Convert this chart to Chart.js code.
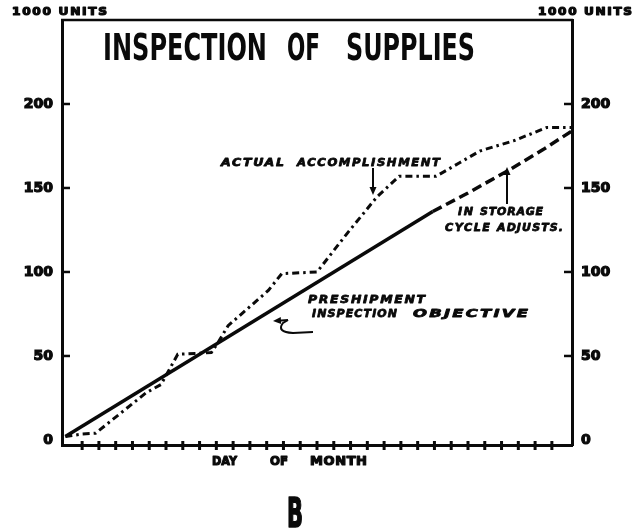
<!DOCTYPE html>
<html>
<head>
<meta charset="utf-8">
<script src="https://cdn.jsdelivr.net/npm/chart.js@4.4.1/dist/chart.umd.min.js"></script>
<style>
  html, body { margin: 0; padding: 0; background: #fff; }
  canvas { display: block; }
</style>
</head>
<body>
<canvas id="chart" width="638" height="531"></canvas>
<script>
// day of month vs. thousands of units
const actualDays = [0, 1, 1.8, 4.8, 5.7, 6.7, 8.7, 9.1, 9.7, 12.1, 12.9, 15, 16.8, 18.6, 19.9, 22.1, 23.5, 24.7, 26.7, 28.7, 30.2];
const actualUnits = [2, 3.5, 4, 28, 33, 51, 52, 58, 68, 89, 99, 100, 123, 145, 157, 157, 165, 172, 178, 186, 186];

const objectiveDays = [0, 21.9];
const objectiveUnits = [2, 136];

const storageDays = [21.9, 24, 26.5, 28.5, 30.2];
const storageUnits = [136, 147, 161, 173, 184];

const unitTicks = [0, 50, 100, 150, 200];
const dayTicks = [1, 2, 3, 4, 5, 6, 7, 8, 9, 10, 11, 12, 13, 14, 15, 16, 17, 18, 19, 20, 21, 22, 23, 24, 25, 26, 27, 28, 29];

const toPoints = (xs, ys) => xs.map((x, i) => ({ x, y: ys[i] }));

const INK = '#0a0a0a';
const FONT = '"DejaVu Sans", sans-serif';

// draws text so it spans x0..x1: a little extra letter spacing first,
// then the glyphs are stretched or squeezed for the rest.
// `heavy` thickens the strokes.
function fitText(ctx, text, x0, x1, baseline, font, heavy = 0, maxGap = 1.5) {
  ctx.save();
  ctx.font = font;
  ctx.textAlign = 'left';
  ctx.textBaseline = 'alphabetic';
  ctx.fillStyle = INK;
  ctx.strokeStyle = INK;
  ctx.lineWidth = heavy;
  ctx.lineJoin = 'round';
  const target = x1 - x0;
  let w = ctx.measureText(text).width;
  if (w < target && text.length > 1) {
    const gap = Math.min((target - w) / (text.length - 1), maxGap);
    ctx.letterSpacing = `${gap}px`;
    w += gap * (text.length - 1);
  }
  ctx.translate(x0, baseline);
  ctx.scale(target / w, 1);
  ctx.fillText(text, 0, 0);
  if (heavy) ctx.strokeText(text, 0, 0);
  ctx.restore();
}

function arrow(ctx, x1, y1, x2, y2) {
  const a = Math.atan2(y2 - y1, x2 - x1);
  ctx.save();
  ctx.strokeStyle = INK;
  ctx.fillStyle = INK;
  ctx.lineWidth = 2;
  ctx.beginPath();
  ctx.moveTo(x1, y1);
  ctx.lineTo(x2 - 5 * Math.cos(a), y2 - 5 * Math.sin(a));
  ctx.stroke();
  ctx.beginPath();
  ctx.moveTo(x2, y2);
  ctx.lineTo(x2 - 8 * Math.cos(a) + 3.5 * Math.sin(a), y2 - 8 * Math.sin(a) - 3.5 * Math.cos(a));
  ctx.lineTo(x2 - 8 * Math.cos(a) - 3.5 * Math.sin(a), y2 - 8 * Math.sin(a) + 3.5 * Math.cos(a));
  ctx.closePath();
  ctx.fill();
  ctx.restore();
}

const paper = {
  id: 'paper',
  beforeDraw: (ch) => {
    const { ctx } = ch;
    ctx.save();
    ctx.fillStyle = '#fff';
    ctx.fillRect(0, 0, ch.width, ch.height);
    ctx.restore();
  },
  afterDraw: (ch) => {
    const { ctx, chartArea: area } = ch;
    const { x, y, y2 } = ch.scales;
    ctx.save();
    ctx.strokeStyle = INK;

    // top edge of the frame
    ctx.lineWidth = 2.5;
    ctx.beginPath();
    ctx.moveTo(area.left - 1, area.top);
    ctx.lineTo(area.right + 1, area.top);
    ctx.stroke();

    // inward tick marks on both value axes
    ctx.lineWidth = 2.5;
    unitTicks.filter((v) => v > 0).forEach((v) => {
      const py = y.getPixelForValue(v);
      ctx.beginPath();
      ctx.moveTo(area.left, py);
      ctx.lineTo(area.left + 8, py);
      ctx.stroke();
      const py2 = y2.getPixelForValue(v);
      ctx.beginPath();
      ctx.moveTo(area.right, py2);
      ctx.lineTo(area.right - 8, py2);
      ctx.stroke();
    });

    // day marks across the bottom axis
    ctx.lineWidth = 3;
    dayTicks.forEach((d) => {
      const px = x.getPixelForValue(d);
      ctx.beginPath();
      ctx.moveTo(px, area.bottom - 4);
      ctx.lineTo(px, area.bottom + 5);
      ctx.stroke();
    });
    ctx.restore();

    // lettering
    fitText(ctx, '1000 UNITS', 12, 107, 15, `bold 11px ${FONT}`, 1.2);
    fitText(ctx, '1000 UNITS', 538, 632, 15, `bold 11px ${FONT}`, 1.2);

    const title = 'bold 38px "DejaVu Sans Condensed", sans-serif';
    fitText(ctx, 'INSPECTION', 103, 267, 60, title, 0, 3);
    fitText(ctx, 'OF', 287, 320, 60, title, 0, 3);
    fitText(ctx, 'SUPPLIES', 346, 475, 60, title, 0, 3);

    fitText(ctx, 'DAY', 212, 237, 465, `bold 13px ${FONT}`, 1.2);
    fitText(ctx, 'OF', 270, 288, 465, `bold 13px ${FONT}`, 1.2);
    fitText(ctx, 'MONTH', 310, 367, 465, `bold 13px ${FONT}`, 1.2);

    fitText(ctx, 'B', 287, 303, 527, 'bold 40px "DejaVu Sans Condensed", sans-serif', 1.5);

    const note = `bold italic 11px ${FONT}`;
    fitText(ctx, 'ACTUAL', 221, 284, 166, note, 0.8);
    fitText(ctx, 'ACCOMPLISHMENT', 297, 440, 166, note, 0.8);
    fitText(ctx, 'IN', 458, 473, 215, note, 0.8);
    fitText(ctx, 'STORAGE', 480, 543, 215, note, 0.8);
    fitText(ctx, 'CYCLE', 445, 490, 231, note, 0.8);
    fitText(ctx, 'ADJUSTS.', 497, 563, 231, note, 0.8);
    fitText(ctx, 'PRESHIPMENT', 308, 425, 303, note, 0.8);
    fitText(ctx, 'INSPECTION', 312, 397, 317, note, 0.8);
    fitText(ctx, 'OBJECTIVE', 413, 528, 317, note, 0.8);

    // pointers from the notes to their lines
    arrow(ctx, 373, 168, 373, 195);
    arrow(ctx, 507, 204, 507, 167);
    ctx.save();
    ctx.strokeStyle = INK;
    ctx.lineWidth = 2;
    ctx.beginPath();
    ctx.moveTo(313, 332);
    ctx.lineTo(293, 333);
    ctx.quadraticCurveTo(276, 332, 283, 323);
    ctx.lineTo(288, 320);
    ctx.stroke();
    ctx.restore();
    arrow(ctx, 288, 320, 273, 321);
  },
};

const fixedTicks = (scale) => {
  scale.ticks = unitTicks.map((v) => ({ value: v }));
};

const valueAxis = (position, width) => ({
  type: 'linear',
  position,
  min: -3,
  max: 250,
  grid: { display: false, drawTicks: false },
  border: { display: true, width: 3, color: INK },
  ticks: {
    padding: 9,
    color: INK,
    textStrokeColor: INK,
    textStrokeWidth: 1.2,
    font: { family: 'DejaVu Sans', weight: 'bold', size: 14 },
  },
  afterBuildTicks: fixedTicks,
  afterFit: (scale) => { scale.width = width; },
});

// eslint-disable-next-line no-undef
const chart = new Chart(document.getElementById('chart'), {
  type: 'line',
  data: {
    datasets: [
      {
        label: 'Actual accomplishment',
        data: toPoints(actualDays, actualUnits),
        borderColor: INK,
        borderWidth: 3,
        borderDash: [7, 4, 2.5, 4],
        yAxisID: 'y',
      },
      {
        label: 'Preshipment inspection objective',
        data: toPoints(objectiveDays, objectiveUnits),
        borderColor: INK,
        borderWidth: 3.5,
        yAxisID: 'y',
      },
      {
        label: 'In storage cycle adjusts',
        data: toPoints(storageDays, storageUnits),
        borderColor: INK,
        borderWidth: 3.5,
        borderDash: [10, 5],
        yAxisID: 'y',
      },
    ],
  },
  plugins: [paper],
  options: {
    responsive: false,
    animation: false,
    layout: { padding: { top: 20, left: 0, right: 0, bottom: 0 } },
    elements: {
      point: { radius: 0 },
      line: { tension: 0, fill: false },
    },
    plugins: {
      legend: { display: false },
      tooltip: { enabled: false },
    },
    scales: {
      x: {
        type: 'linear',
        min: -0.2,
        max: 30.2,
        grid: { display: false, drawTicks: false },
        border: { display: true, width: 3, color: INK },
        ticks: { display: false },
        afterFit: (scale) => { scale.height = 86; },
      },
      y: valueAxis('left', 62),
      y2: valueAxis('right', 66),
    },
  },
});
</script>
</body>
</html>
